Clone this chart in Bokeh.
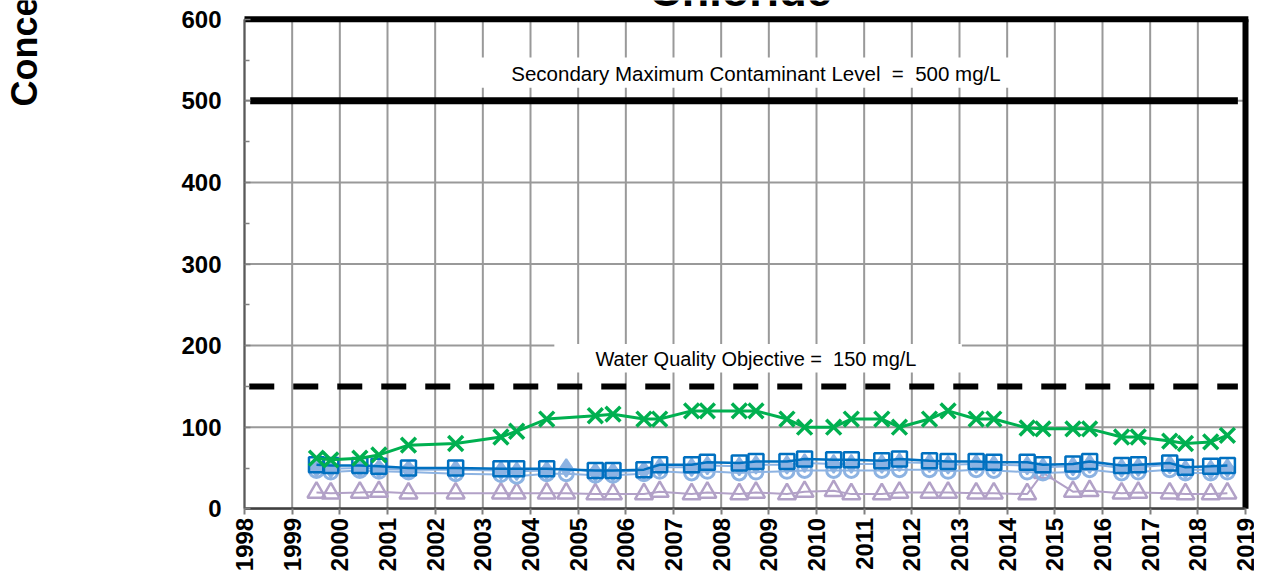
import math
from bokeh.plotting import figure
from bokeh.models import Range1d, FixedTicker, Label
from bokeh.embed import file_html
from bokeh.resources import INLINE

# ---------------- data ----------------
title_text = "Chloride"
y_axis_text = "Concentration (mg/L)"
year_ticks = list(range(1998, 2020))
year_labels = [str(y) for y in year_ticks]
y_ticks = [0, 100, 200, 300, 400, 500, 600]
y_minor_ticks = [50, 150, 250, 350, 450, 550]

smcl_value = 500
wqo_value = 150
smcl_text = "Secondary Maximum Contaminant Level \u00a0= \u00a0500 mg/L"
wqo_text = "Water Quality Objective = \u00a0150 mg/L"

# sample dates (decimal years)
dates_main = [1999.51, 1999.81, 2000.42, 2000.82, 2001.44, 2002.43, 2003.38, 2003.71,
              2004.34, 2005.36, 2005.73, 2006.38, 2006.71, 2007.38, 2007.71, 2008.38,
              2008.73, 2009.38, 2009.75, 2010.36, 2010.73, 2011.37, 2011.74, 2012.37,
              2012.76, 2013.35, 2013.72, 2014.42, 2014.75, 2015.38, 2015.73, 2016.40,
              2016.75, 2017.41, 2017.74, 2018.27, 2018.62]
green_vals = [62, 60, 62, 66, 78, 80, 88, 95, 110, 114, 116, 110, 110, 120, 120, 120,
              120, 110, 100, 100, 110, 110, 100, 110, 120, 110, 110, 99, 98, 98, 98, 88,
              88, 83, 80, 82, 90]
blue_vals = [54, 53, 53, 52, 50, 50, 49, 49, 49, 47, 47, 48, 54, 54, 57, 56, 58, 58, 61,
             60, 60, 59, 61, 59, 58, 58, 57, 57, 54, 55, 58, 53, 54, 56, 51, 52, 53]

dates_all = [1999.51, 1999.81, 2000.42, 2000.82, 2001.44, 2002.43, 2003.38, 2003.71,
             2004.34, 2004.75, 2005.36, 2005.73, 2006.38, 2006.71, 2007.38, 2007.71,
             2008.38, 2008.73, 2009.38, 2009.75, 2010.36, 2010.73, 2011.37, 2011.74,
             2012.37, 2012.76, 2013.35, 2013.72, 2014.42, 2014.75, 2015.38, 2015.73,
             2016.40, 2016.75, 2017.41, 2017.74, 2018.27, 2018.62]
diamond_vals = [50, 49, 50, 49, 48, 48, 47, 46, 47, 50, 45, 45, 47, 51, 51, 53, 52, 54,
                54, 56, 55, 55, 55, 57, 56, 54, 55, 54, 53, 51, 52, 55, 50, 51, 54, 48,
                48, 50]
circle_vals = [47, 45, 47, 46, 45, 43, 42, 40, 43, 43, 41, 41, 43, 46, 44, 46, 44, 45,
               46, 47, 47, 47, 47, 48, 48, 46, 48, 47, 45, 44, 45, 48, 44, 45, 48, 44,
               44, 45]
triangle_vals = [20, 19, 20, 21, 19, 19, 19, 19, 19, 19, 18, 18, 18, 21, 18, 20, 18, 20,
                 18, 21, 22, 18, 18, 20, 20, 20, 19, 19, 18, 44, 21, 22, 19, 20, 19, 18,
                 18, 19]

# ---------------- layout / styles ----------------
W, H = 1254, 576
X0, X1 = 1998, 2019          # plotted axis extent
Y0, Y1 = 0, 600
PX_LEFT, PX_RIGHT = 244, 1245
PY_TOP, PY_BOTTOM = 18.7, 508.3
kx = (PX_RIGHT - PX_LEFT) / (X1 - X0)
ky = (PY_BOTTOM - PY_TOP) / (Y1 - Y0)
xr = Range1d(X0 - PX_LEFT / kx, X1 + (W - PX_RIGHT) / kx)
yr = Range1d(Y0 - (H - PY_BOTTOM) / ky, Y1 + PY_TOP / ky)

GREEN = "#00B050"
BLUE = "#0070C0"
LIGHT = "#8DB3E2"
LAV = "#B2A1C7"
GRID = "#999999"
FONT = "Liberation Sans"

p = figure(width=W, height=H, x_range=xr, y_range=yr,
           output_backend="svg", toolbar_location=None, title_location=None,
           min_border=0)
p.outline_line_color = None
p.background_fill_color = "white"
p.border_fill_color = "white"
p.xgrid.visible = False
p.ygrid.visible = False

# axes drawn at fixed locations inside the frame
p.xaxis.fixed_location = Y0
p.xaxis.bounds = (X0, X1)
p.xaxis.ticker = FixedTicker(ticks=year_ticks)
p.xaxis.major_label_overrides = {y: s for y, s in zip(year_ticks, year_labels)}
p.xaxis.major_label_orientation = math.pi / 2
p.xaxis.major_label_text_font = FONT
p.xaxis.major_label_text_font_style = "bold"
p.xaxis.major_label_text_font_size = "24px"
p.xaxis.major_label_text_color = "black"
p.xaxis.major_label_standoff = 3
p.xaxis.major_tick_in = 0
p.xaxis.major_tick_out = 6
p.xaxis.major_tick_line_color = "#808080"
p.xaxis.major_tick_line_width = 2
p.xaxis.minor_tick_line_color = None
p.xaxis.axis_line_color = "#404040"
p.xaxis.axis_line_width = 2.5

p.yaxis.fixed_location = X0
p.yaxis.bounds = (Y0, Y1)
p.yaxis.ticker = FixedTicker(ticks=y_ticks, minor_ticks=y_minor_ticks)
p.yaxis.major_label_text_font = FONT
p.yaxis.major_label_text_font_style = "bold"
p.yaxis.major_label_text_font_size = "24px"
p.yaxis.major_label_text_color = "black"
p.yaxis.major_label_standoff = 23
p.yaxis.major_tick_in = 6
p.yaxis.major_tick_out = 0
p.yaxis.minor_tick_in = 5
p.yaxis.minor_tick_out = 0
p.yaxis.major_tick_line_color = "#808080"
p.yaxis.minor_tick_line_color = "#808080"
p.yaxis.major_tick_line_width = 1.5
p.yaxis.minor_tick_line_width = 1.5
p.yaxis.axis_line_color = "#595959"
p.yaxis.axis_line_width = 2

# grid lines (limited to the plot area)
p.segment(x0=year_ticks, y0=[Y0] * len(year_ticks), x1=year_ticks, y1=[Y1] * len(year_ticks),
          line_color=GRID, line_width=2)
p.segment(x0=[X0] * len(y_ticks), y0=y_ticks, x1=[X1] * len(y_ticks), y1=y_ticks,
          line_color=GRID, line_width=2)

# white label boxes
p.quad(left=[2002.7, 2004.5], right=[2014.4, 2013.05], bottom=[516, 167], top=[553, 202],
       fill_color="white", line_color=None)

# reference lines
p.line([X0 + 0.12, X1 - 0.16], [smcl_value, smcl_value], line_color="black", line_width=7)
p.line([X0 + 0.1, X1 - 0.16], [wqo_value, wqo_value], line_color="black", line_width=6,
       line_dash="25 19")

# borders (top & right)
p.line([X0, X1 + 0.06], [Y1, Y1], line_color="black", line_width=6)
p.line([X1, X1], [Y0, Y1], line_color="black", line_width=6)

# series
p.line(dates_all, triangle_vals, line_color=LAV, line_width=2)
p.scatter(dates_all, triangle_vals, marker="triangle", size=18, line_color=LAV,
          line_width=2.5, fill_color=None)

p.line(dates_all, diamond_vals, line_color=LIGHT, line_width=2)
p.scatter(dates_all, diamond_vals, marker="diamond", size=18, line_color=LIGHT,
          line_width=2, fill_color=LIGHT)

p.line(dates_all, circle_vals, line_color=LIGHT, line_width=2)
p.scatter(dates_all, circle_vals, marker="circle", size=14, line_color=LIGHT,
          line_width=3, fill_color=None)

p.line(dates_main, blue_vals, line_color=BLUE, line_width=2.5)
p.scatter(dates_main, blue_vals, marker="square", size=15, line_color=BLUE,
          line_width=2.5, fill_color=None)

p.line(dates_main, green_vals, line_color=GREEN, line_width=3)
p.scatter(dates_main, green_vals, marker="x", size=21, line_color=GREEN, line_width=3.5)

# texts
p.add_layout(Label(x=2008.73, y=534, text=smcl_text, text_align="center",
                   text_baseline="middle", text_font=FONT, text_font_size="20.5px",
                   text_color="black"))
p.add_layout(Label(x=2008.73, y=184, text=wqo_text, text_align="center",
                   text_baseline="middle", text_font=FONT, text_font_size="20px",
                   text_color="black"))
p.add_layout(Label(x=xr.start + 740 / kx, y=yr.end + 10 / ky, text=title_text,
                   text_align="center", text_baseline="alphabetic", text_font=FONT,
                   text_font_size="45px", text_font_style="bold", text_color="black"))
p.add_layout(Label(x=xr.start + 24 / kx, y=yr.end - 106 / ky, text=y_axis_text,
                   angle=math.pi / 2, text_align="left", text_baseline="alphabetic",
                   text_font=FONT, text_font_size="36px", text_font_style="bold",
                   text_color="black"))

open("out.html", "w").write(file_html(p, INLINE))
